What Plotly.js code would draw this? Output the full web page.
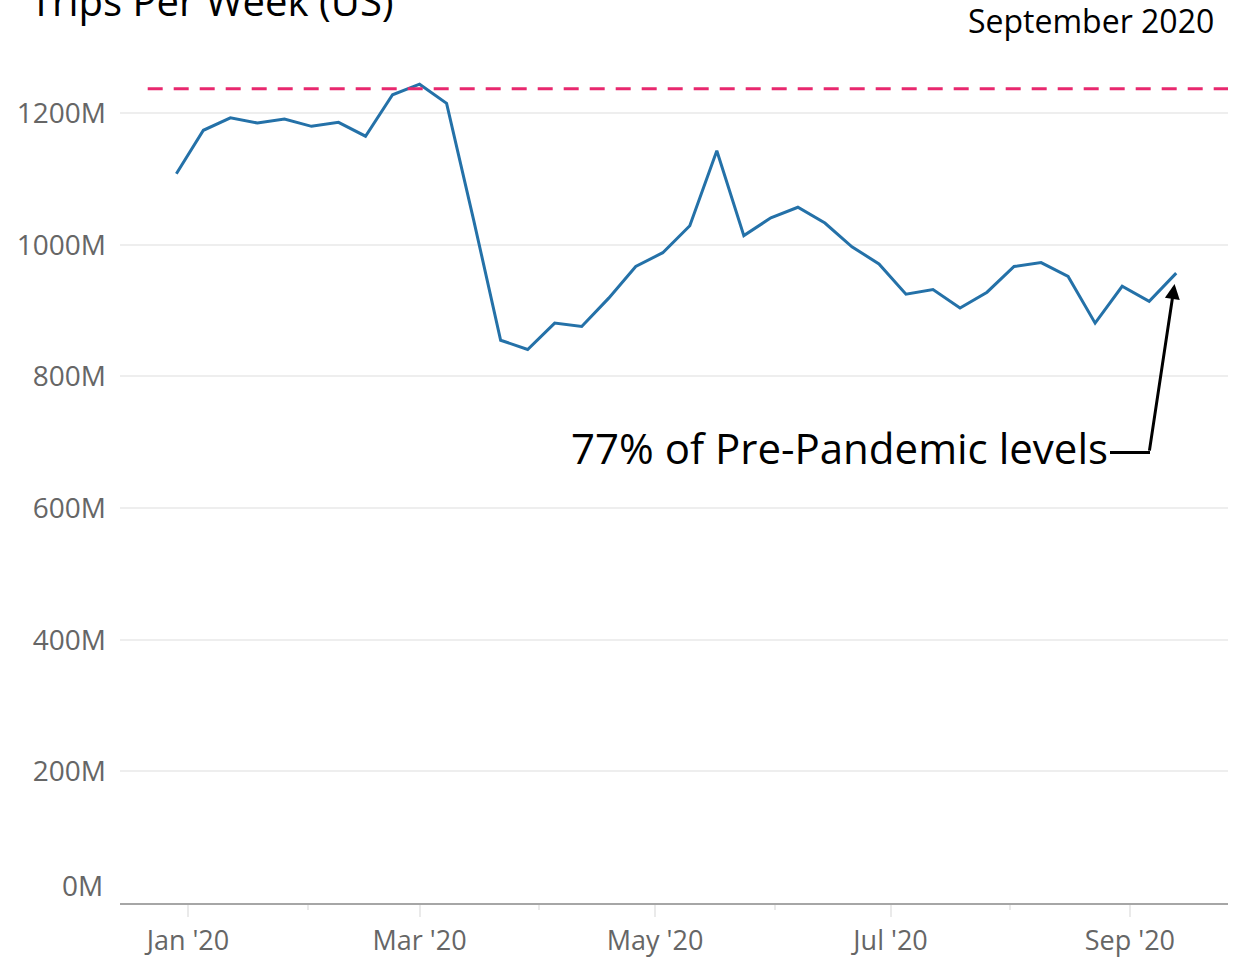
<!DOCTYPE html>
<html>
<head>
<meta charset="utf-8">
<script src="https://cdn.plot.ly/plotly-3.0.1.min.js"></script>
<style>html,body{margin:0;padding:0;background:#fff;}#chart{width:1242px;height:960px;}</style>
</head>
<body>
<div id="chart"></div>
<script>
// Week-start dates (Sundays)
const weeks = [
  '2019-12-29','2020-01-05','2020-01-12','2020-01-19','2020-01-26',
  '2020-02-02','2020-02-09','2020-02-16','2020-02-23',
  '2020-03-01','2020-03-08','2020-03-15','2020-03-22','2020-03-29',
  '2020-04-05','2020-04-12','2020-04-19','2020-04-26',
  '2020-05-03','2020-05-10','2020-05-17','2020-05-24','2020-05-31',
  '2020-06-07','2020-06-14','2020-06-21','2020-06-28',
  '2020-07-05','2020-07-12','2020-07-19','2020-07-26',
  '2020-08-02','2020-08-09','2020-08-16','2020-08-23','2020-08-30',
  '2020-09-06','2020-09-13'
];
// Trips per week, millions
const trips = [
  1108,1174,1193,1185,1191,
  1180,1186,1165,1228,
  1244,1215,1038,855,841,
  881,876,919,967,
  988,1029,1143,1014,1041,
  1057,1033,997,971,
  925,932,904,928,
  967,973,952,881,937,
  914,957
];
const preLevel = 1237;

const majorTickVals = ['2020-01-01','2020-03-01','2020-05-01','2020-07-01','2020-09-01'];
const majorTickText = ["Jan '20","Mar '20","May '20","Jul '20","Sep '20"];
const minorTickVals = ['2020-02-01','2020-04-01','2020-06-01','2020-08-01'];
const yTickVals = [200,400,600,800,1000,1200];
const yTickText = ['200M','400M','600M','800M','1000M','1200M'];

const tickFont = {family: 'Open Sans, sans-serif', size: 28, color: '#666666'};
const xTickFont = {family: 'Open Sans, sans-serif', size: 27, color: '#666666'};

const data = [{
  x: weeks, y: trips, type: 'scatter', mode: 'lines',
  line: {color: '#2471A8', width: 3}, hoverinfo: 'skip'
}];

const layout = {
  width: 1242, height: 960,
  margin: {l: 120, r: 14, t: 48, b: 57},
  paper_bgcolor: '#ffffff', plot_bgcolor: '#ffffff',
  showlegend: false,
  xaxis: {
    type: 'date',
    range: ['2019-12-14 09:36', '2020-09-26 10:00'],
    tickmode: 'array', tickvals: majorTickVals, ticktext: majorTickText,
    ticks: 'outside', ticklen: 12, tickwidth: 2, tickcolor: '#eaeaea',
    minor: {tickmode: 'array', tickvals: minorTickVals, ticks: 'outside', ticklen: 5, tickwidth: 2, tickcolor: '#eaeaea', showgrid: false},
    showgrid: false, zeroline: false,
    showline: true, linecolor: '#a6a6a6', linewidth: 2,
    tickfont: xTickFont, ticklabelstandoff: 1, fixedrange: true
  },
  yaxis: {
    range: [0, 1299],
    tickmode: 'array', tickvals: yTickVals, ticktext: yTickText,
    ticks: '', showline: false, zeroline: false,
    showgrid: true, gridcolor: '#eeeeee', gridwidth: 2,
    tickfont: tickFont, ticklabelstandoff: 13, fixedrange: true
  },
  shapes: [
    {type: 'line', xref: 'paper', yref: 'y', x0: 0.025, x1: 1, y0: preLevel, y1: preLevel,
     line: {color: '#E8286E', width: 3, dash: '15px,11px'}},
    {type: 'line', xref: 'paper', yref: 'paper', x0: 0.8935, x1: 0.9296, y0: 0.527, y1: 0.527,
     line: {color: '#000000', width: 3}}
  ],
  annotations: [
    {text: 'Trips Per Week (US)', xref: 'paper', yref: 'paper', x: -0.083, y: 1.056,
     xanchor: 'left', yanchor: 'middle', showarrow: false,
     font: {family: 'Open Sans, sans-serif', size: 40, color: '#000000'}},
    {text: 'September 2020', xref: 'paper', yref: 'paper', x: 0.989, y: 1.0316,
     xanchor: 'right', yanchor: 'middle', showarrow: false,
     font: {family: 'Open Sans, sans-serif', size: 32, color: '#000000'}},
    {text: '0M', xref: 'paper', yref: 'paper', x: -0.0135, y: 0.021,
     xanchor: 'right', yanchor: 'middle', showarrow: false, font: tickFont},
    {text: '77% of Pre-Pandemic levels', xref: 'paper', yref: 'paper', x: 0.8935, y: 0.533,
     xanchor: 'right', yanchor: 'middle', showarrow: false,
     font: {family: 'Open Sans, sans-serif', size: 42, color: '#000000'}},
    {text: '', xref: 'x', yref: 'y', x: weeks[weeks.length - 1], y: trips[trips.length - 1],
     showarrow: true, axref: 'pixel', ayref: 'pixel', ax: -27, ay: 179,
     arrowhead: 2, arrowsize: 1, arrowwidth: 3, arrowcolor: '#000000', standoff: 11}
  ]
};

Plotly.newPlot('chart', data, layout, {displayModeBar: false, staticPlot: true});
</script>
</body>
</html>
